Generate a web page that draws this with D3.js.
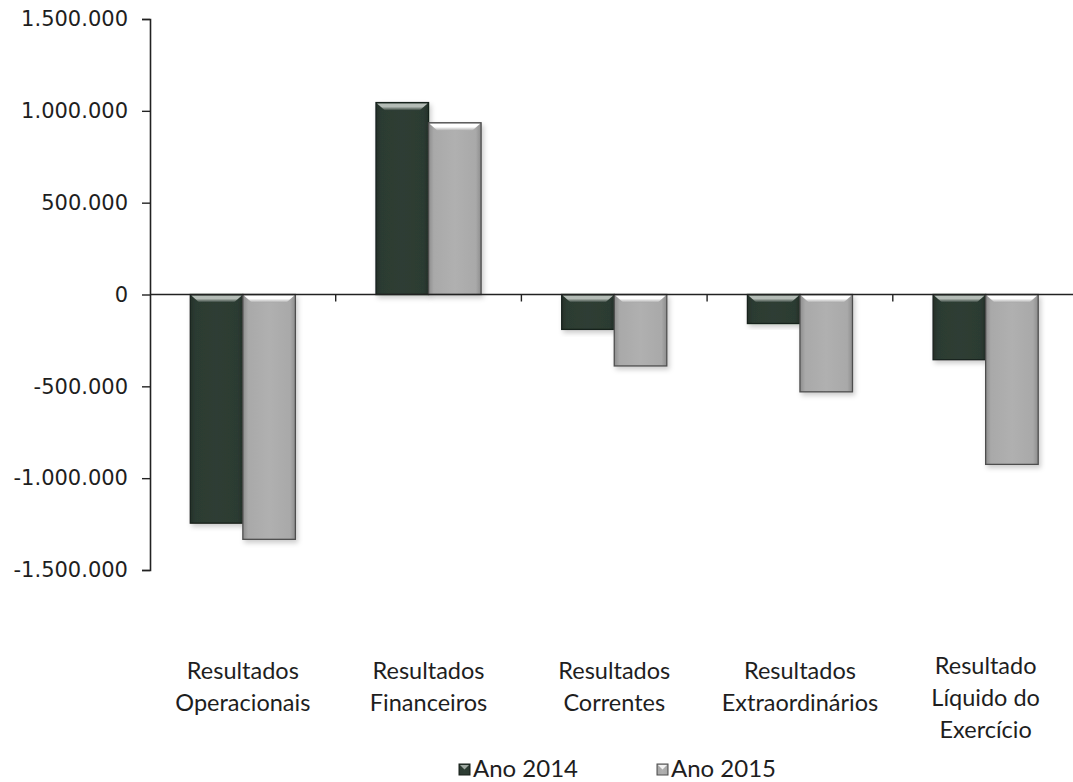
<!DOCTYPE html>
<html>
<head>
<meta charset="utf-8">
<script src="https://cdn.jsdelivr.net/npm/d3@7"></script>
<style>
  html, body { margin: 0; padding: 0; background: #fff; }
  svg { display: block; }
  text { font-family: Lato, "Open Sans", sans-serif; fill: #1e1e1e; }
</style>
</head>
<body>
<svg id="chart" width="1073" height="782"></svg>
<script>
// Demonstração de resultados, 2014 vs 2015
const categories = [
  ["Resultados", "Operacionais"],
  ["Resultados", "Financeiros"],
  ["Resultados", "Correntes"],
  ["Resultados", "Extraordinários"],
  ["Resultado", "Líquido do", "Exercício"]
];
const seriesNames = ["Ano 2014", "Ano 2015"];
const values2014 = [-1245000, 1045000, -190000, -158000, -355000];
const values2015 = [-1333000, 935000, -389000, -530000, -925000];
const yTicks = [-1500000, -1000000, -500000, 0, 500000, 1000000, 1500000];

const seriesValues = [values2014, values2015];
const barFill = ["#2c3b32", "#a9a9a9"];
const barEdge = ["#18211b", "#4e4e4e"];
const bevelTop = ["#b4bcb6", "#ffffff"];

const svg = d3.select("#chart");
const plotLeft = 150, plotTop = 19, plotBottom = 570;
const band = 185.7;
const catKeys = categories.map(c => c.join(" "));

const x0 = d3.scaleBand().domain(catKeys).range([plotLeft, plotLeft + band * catKeys.length]).padding(0);
const x1 = d3.scaleBand().domain(seriesNames)
  .range([x0.bandwidth() * 0.217, x0.bandwidth() * 0.783]).padding(0);
const y = d3.scaleLinear().domain([-1500000, 1500000]).range([plotBottom, plotTop]);

const locale = d3.formatLocale({ decimal: ",", thousands: ".", grouping: [3], currency: ["", ""], minus: "-" });
const fmt = locale.format(",d");

const defs = svg.append("defs");
seriesNames.forEach((s, i) => {
  const g = defs.append("linearGradient").attr("id", "body" + i).attr("x1", 0).attr("x2", 1).attr("y1", 0).attr("y2", 0);
  const c = d3.color(barFill[i]);
  g.append("stop").attr("offset", "0%").attr("stop-color", c.darker(0.5));
  g.append("stop").attr("offset", "10%").attr("stop-color", c);
  g.append("stop").attr("offset", "50%").attr("stop-color", c.brighter(0.12));
  g.append("stop").attr("offset", "90%").attr("stop-color", c);
  g.append("stop").attr("offset", "100%").attr("stop-color", c.darker(0.5));
  const b = defs.append("linearGradient").attr("id", "bevel" + i).attr("x1", 0).attr("x2", 0).attr("y1", 0).attr("y2", 1);
  b.append("stop").attr("offset", "0%").attr("stop-color", bevelTop[i]);
  b.append("stop").attr("offset", "45%").attr("stop-color", bevelTop[i]);
  b.append("stop").attr("offset", "100%").attr("stop-color", barFill[i]);
});
const shadow = defs.append("filter").attr("id", "shadow").attr("x", "-20%").attr("y", "-20%").attr("width", "140%").attr("height", "140%");
shadow.append("feDropShadow").attr("dx", 2).attr("dy", 3).attr("stdDeviation", 2.5).attr("flood-color", "#000").attr("flood-opacity", 0.2);

// Eixo Y
const yAxis = svg.append("g").attr("transform", `translate(${plotLeft},0)`)
  .call(d3.axisLeft(y).tickValues(yTicks).tickFormat(fmt).tickSize(8).tickPadding(14));
yAxis.select(".domain").attr("stroke", "#222").attr("stroke-width", 1.6);
yAxis.selectAll(".tick line").attr("stroke", "#222").attr("stroke-width", 1.4);
yAxis.selectAll(".tick text").style("font-family", "'DejaVu Sans', Verdana, sans-serif")
  .style("font-size", "21px").attr("fill", "#1e1e1e");

// Barras
const groups = svg.append("g").selectAll("g").data(catKeys).join("g")
  .attr("transform", d => `translate(${x0(d)},0)`);

groups.each(function(cat, ci) {
  const g = d3.select(this);
  seriesNames.forEach((s, si) => {
    const v = seriesValues[si][ci];
    const bx = x1(s), bw = x1.bandwidth();
    const yt = y(Math.max(0, v)), yb = y(Math.min(0, v));
    const h = yb - yt;
    const bar = g.append("g").attr("filter", "url(#shadow)");
    bar.append("rect").attr("x", bx).attr("y", yt).attr("width", bw).attr("height", h)
      .attr("fill", `url(#body${si})`).attr("stroke", barEdge[si]).attr("stroke-width", 1.3);
    const d = Math.min(8, h / 2);
    bar.append("path")
      .attr("d", `M${bx + 1},${yt + 1}L${bx + bw - 1},${yt + 1}L${bx + bw - 1 - d},${yt + d}L${bx + 1 + d},${yt + d}Z`)
      .attr("fill", `url(#bevel${si})`);
  });
});

// Eixo X na linha do zero
const xAxis = svg.append("g").attr("transform", `translate(0,${y(0)})`);
xAxis.append("line").attr("x1", plotLeft).attr("x2", 1073).attr("y1", 0).attr("y2", 0)
  .attr("stroke", "#222").attr("stroke-width", 1.6);
xAxis.selectAll("line.cat").data(catKeys.slice(1)).join("line").attr("class", "cat")
  .attr("x1", d => x0(d)).attr("x2", d => x0(d)).attr("y1", 0).attr("y2", 7)
  .attr("stroke", "#222").attr("stroke-width", 1.4);

// Rótulos das categorias (os de três linhas sobem um pouco)
svg.append("g").selectAll("text").data(categories).join("text")
  .attr("text-anchor", "middle")
  .attr("transform", (d, i) => `translate(${x0(catKeys[i]) + x0.bandwidth() / 2},${d.length > 2 ? 674 : 679})`)
  .style("font-size", "23.5px")
  .selectAll("tspan").data(d => d).join("tspan")
  .attr("x", 0).attr("dy", (d, i) => i === 0 ? 0 : 32).text(d => d);

// Legenda
const legendX = [459, 657];
const legend = svg.append("g").selectAll("g").data(seriesNames).join("g")
  .attr("transform", (d, i) => `translate(${legendX[i]},764)`);
legend.append("rect").attr("width", 11).attr("height", 11)
  .attr("fill", (d, i) => `url(#body${i})`).attr("stroke", (d, i) => barEdge[i]).attr("stroke-width", 1);
legend.append("path").attr("d", "M1,1L10,1L5.5,5.5Z").attr("fill", (d, i) => bevelTop[i]).attr("opacity", 0.85);
legend.append("text").attr("x", 14).attr("y", 13).style("font-size", "24px").text(d => d);
</script>
</body>
</html>
